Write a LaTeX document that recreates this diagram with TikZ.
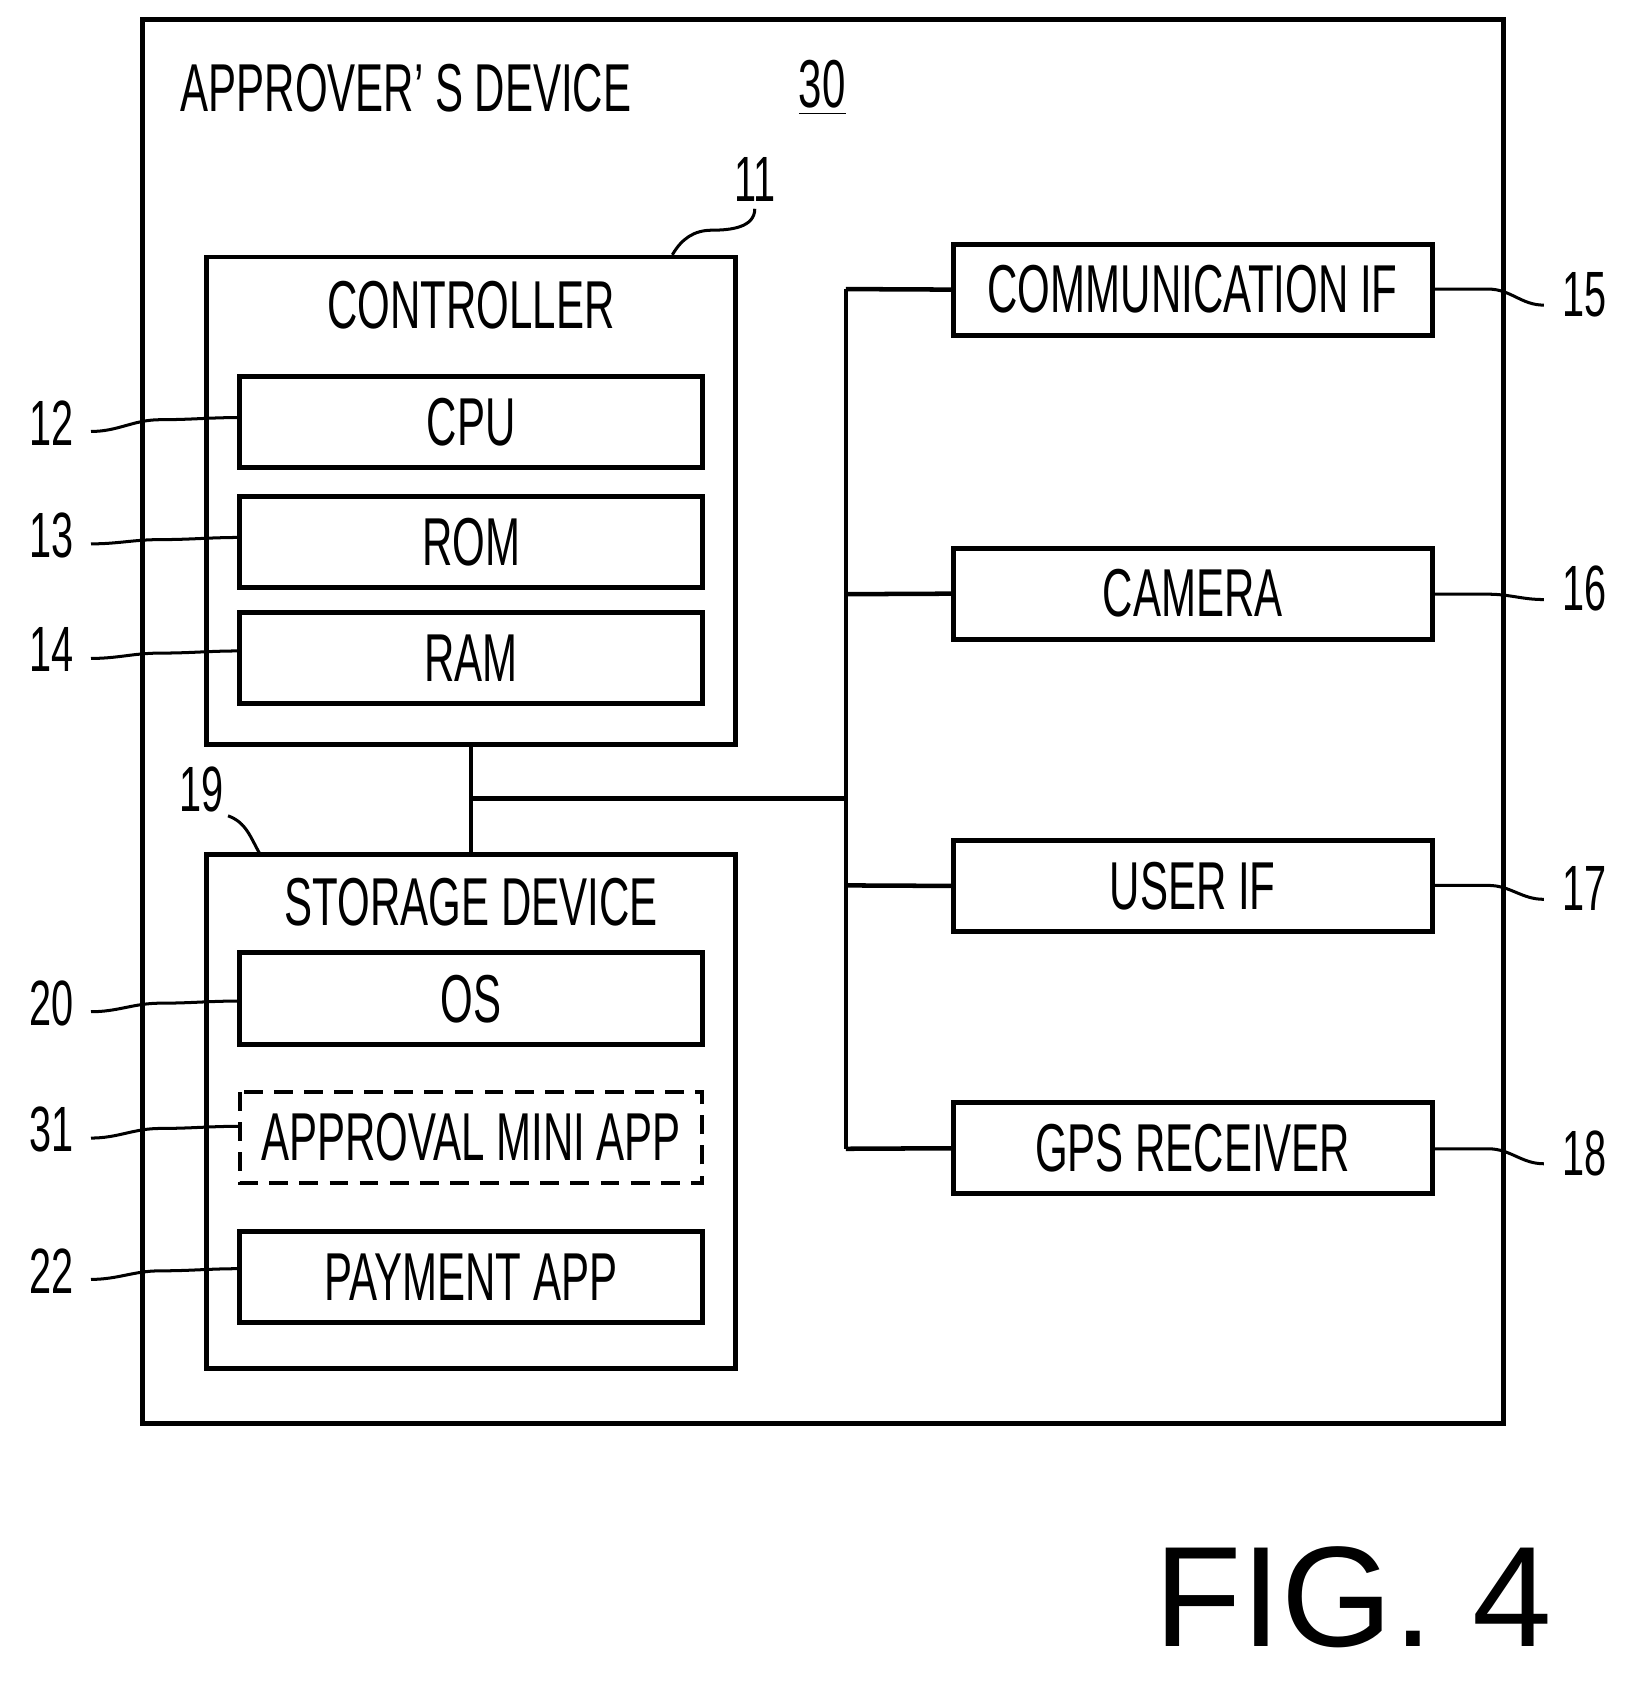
\documentclass[tikz,border=0pt]{standalone}
\usepackage{fontspec}
\setmainfont{Liberation Sans}[FakeStretch=0.62]
\newfontfamily\figfont{Liberation Sans}
\begin{document}
\begin{tikzpicture}[x=0.01cm,y=-0.01cm,
  box/.style={draw,line width=1.3pt},
  lbl/.style={font=\fontsize{18}{20}\selectfont,inner sep=0},
  num/.style={font=\fontsize{17}{20}\selectfont,inner sep=0},
  lead/.style={line width=0.8pt},
  bus/.style={line width=1.2pt}]
\useasboundingbox (0,0) rectangle (1530,1572);
\draw[box] (133,18) rectangle (1404,1330);
\node[lbl,anchor=west] (title) at (168,82) {APPROVER’ S DEVICE};
\node[lbl] (n30) at (768,82) {\underline{30}};
% controller
\draw[box] (193,240) rectangle (687,695);
\node[lbl] (ctl) at (440,285) {CONTROLLER};
\foreach \n/\t/\a/\b in {cpu/CPU/352/437,rom/ROM/464/549,ram/RAM/572/657,os/OS/890/976,pay/PAYMENT APP/1150/1235}{
  \draw[box] (224,\a) rectangle (656,\b);
  \node[lbl] (\n) at (440,{(\a+\b)/2}) {\t};
}
\draw[box,dash pattern=on 5pt off 3pt,line width=1.1pt] (224,1020) rectangle (656,1105);
\node[lbl] (appr) at (440,1062) {APPROVAL MINI APP};
\draw[box] (193,798) rectangle (687,1278);
\node[lbl] (sto) at (440,843) {STORAGE DEVICE};
% right boxes
\foreach \n/\t/\a/\b in {com/COMMUNICATION IF/228/313,cam/CAMERA/512/597,usr/USER IF/785/870,gps/GPS RECEIVER/1030/1115}{
  \draw[box] (891,\a) rectangle (1338,\b);
  \node[lbl] (\n) at (1114,{(\a+\b)/2}) {\t};
  \coordinate (\n L) at (891,{(\a+\b)/2});
  \coordinate (\n R) at (1338,{(\a+\b)/2});
}
% bus
\coordinate (c1) at (440,695); \coordinate (c2) at (440,798);
\coordinate (j) at (440,746); \coordinate (k) at (790,746);
\coordinate (top) at (790,270); \coordinate (bot) at (790,1073);
\draw[bus] (c1) -- (c2);
\draw[bus] (j) -- (k);
\draw[bus] (top) -- (bot);
\draw[bus] (top) -- (comL);
\draw[bus] (790,555) -- (camL);
\draw[bus] (790,827) -- (usrL);
\draw[bus] (bot) -- (gpsL);
% reference numbers
\node[num] (n11) at (705,168) {11};
\draw[lead] (705,195) to[out=-90,in=0] (665,215) to[out=180,in=60] (628,238);
\node[num] (n19) at (188,737) {19};
\draw[lead] (213,762) to[out=-20,in=120] (243,798);
\foreach \n/\y/\yy in {12/395/390,13/500/502,14/607/608,20/937/935,31/1055/1052,22/1187/1185}{
  \node[num] (l\n) at (48,\y) {\n};
  \draw[lead] (85,\y+8) to[out=0,in=180] (150,\yy+2) to[out=0,in=180] (224,\yy);
}
\foreach \n/\y/\yy in {15/275/270,16/550/555,17/830/827,18/1077/1073}{
  \node[num] (r\n) at (1480,\y) {\n};
  \draw[lead] (1338,\yy) to[out=0,in=180] (1390,\yy) to[out=0,in=180] (1442,\y+10);
}
\node[font=\figfont\fontsize{38}{44}\selectfont,inner sep=0] (fig) at (1264,1492) {FIG. 4};
\end{tikzpicture}
\end{document}
